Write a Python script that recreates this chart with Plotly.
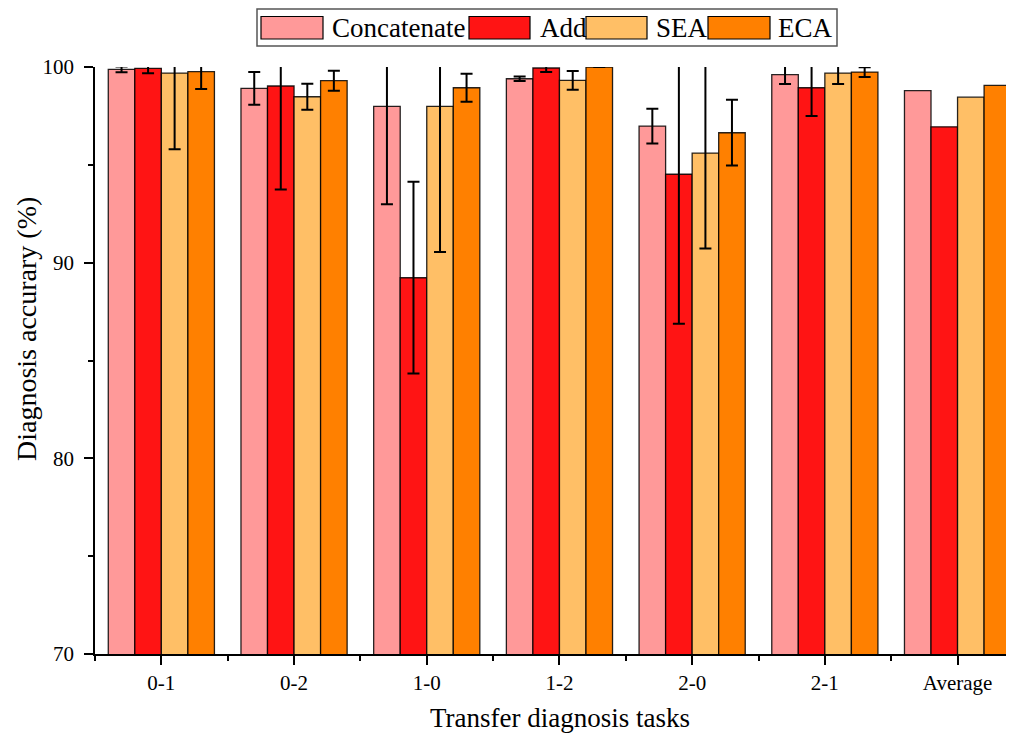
import plotly.graph_objects as go

categories = ["0-1", "0-2", "1-0", "1-2", "2-0", "2-1", "Average"]
series_names = ["Concatenate", "Add", "SEA", "ECA"]

# mean accuracy per task (last entry = Average)
concatenate = [99.88, 98.91, 97.99, 99.40, 96.98, 99.61, 98.79]
add = [99.93, 99.03, 89.23, 99.95, 94.52, 98.94, 96.94]
sea = [99.69, 98.48, 97.99, 99.32, 95.60, 99.69, 98.46]
eca = [99.76, 99.30, 98.94, 100.0, 96.64, 99.74, 99.06]

# standard deviations for the six transfer tasks (no error bar on Average)
concatenate_err = [0.15, 0.84, 5.00, 0.12, 0.89, 0.48]
add_err = [0.25, 5.29, 4.90, 0.20, 7.64, 1.45]
sea_err = [3.89, 0.66, 7.44, 0.48, 4.87, 0.56]
eca_err = [0.89, 0.51, 0.72, 0.0, 1.68, 0.25]

colors = ["#FF9999", "#FF1414", "#FFBF66", "#FF8000"]
values = [concatenate, add, sea, eca]
errors = [concatenate_err, add_err, sea_err, eca_err]

FONT = "Times New Roman, Liberation Serif, DejaVu Serif, serif"
OFF = 8  # default page body margin
W, H = 1014 - OFF, 740 - OFF
L, R, T, B = 95 - OFF, 0, 67 - OFF, 86
pw, ph = W - L - R, H - T - B


def px_x(x):
    return (x - OFF - L) / pw


def px_y(y):
    return (H - B - (y - OFF)) / ph


xpos = list(range(len(categories)))

fig = go.Figure()
for name, vals, errs, col in zip(series_names, values, errors, colors):
    fig.add_trace(go.Bar(
        x=xpos, y=vals, name=name,
        marker=dict(color=col, line=dict(color="rgba(0,0,0,0.85)", width=1.3)),
        error_y=dict(type="data", array=errs, visible=True,
                     color="black", thickness=2, width=6),
        showlegend=False,
    ))

fig.update_layout(
    width=W, height=H,
    margin=dict(l=L, r=R, t=T, b=B),
    paper_bgcolor="white", plot_bgcolor="white",
    barmode="group", bargap=0.2, bargroupgap=0,
    font=dict(family=FONT, color="black"),
)

fig.update_xaxes(
    range=[-0.5, -0.5 + pw / 132.7],
    tickmode="array", tickvals=xpos, ticktext=categories,
    tickfont=dict(size=21, family=FONT, color="black"),
    showline=True, linecolor="black", linewidth=1.5,
    ticks="outside", ticklen=9, tickwidth=1.5, tickcolor="black",
    minor=dict(tickmode="linear", tick0=0.5, dtick=1, ticks="outside",
               ticklen=5, tickwidth=1.5, tickcolor="black"),
    showgrid=False, zeroline=False,
)
fig.update_yaxes(
    range=[70, 100],
    tickmode="array", tickvals=[70, 80, 90, 100],
    tickfont=dict(size=21, family=FONT, color="black"),
    ticklabelstandoff=6,
    showline=True, linecolor="black", linewidth=1.5,
    ticks="outside", ticklen=9, tickwidth=1.5, tickcolor="black",
    minor=dict(tickmode="linear", tick0=70, dtick=5, ticks="outside",
               ticklen=5, tickwidth=1.5, tickcolor="black"),
    showgrid=False, zeroline=False,
)

annotations = [
    dict(text="Transfer diagnosis tasks", xref="paper", yref="paper",
         x=px_x(560), y=px_y(718), xanchor="center", yanchor="middle",
         showarrow=False, font=dict(size=27, family=FONT, color="black")),
    dict(text="Diagnosis accurary (%)", xref="paper", yref="paper",
         x=px_x(26), y=px_y(329), xanchor="center", yanchor="middle",
         textangle=-90, showarrow=False,
         font=dict(size=28, family=FONT, color="black")),
]

shapes = [
    dict(type="rect", xref="paper", yref="paper",
         x0=px_x(257), x1=px_x(837), y0=px_y(9), y1=px_y(46),
         line=dict(color="#555555", width=1.5), fillcolor="white", layer="above"),
]

swatches = [(261, 323), (469, 530), (586, 647), (708, 770)]
text_left = [330, 538, 654, 776]
for name, col, (sx0, sx1), tx in zip(series_names, colors, swatches, text_left):
    shapes.append(dict(type="rect", xref="paper", yref="paper",
                       x0=px_x(sx0), x1=px_x(sx1), y0=px_y(16.5), y1=px_y(39),
                       line=dict(color="black", width=1.2), fillcolor=col,
                       layer="above"))
    annotations.append(dict(text=name, xref="paper", yref="paper",
                            x=px_x(tx), y=px_y(28), xanchor="left",
                            yanchor="middle", showarrow=False,
                            font=dict(size=27, family=FONT, color="black")))

fig.update_layout(shapes=shapes, annotations=annotations)

fig.write_html("out.html")
